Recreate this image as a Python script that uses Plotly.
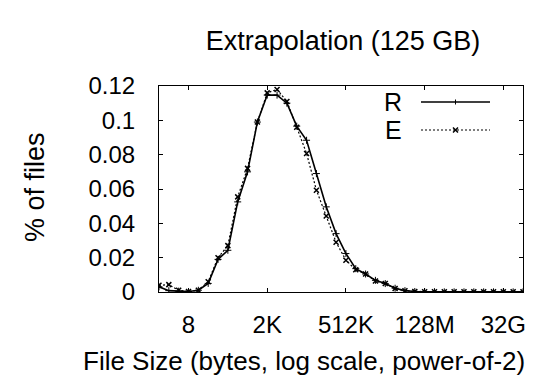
import plotly.graph_objects as go

# x positions: log2(file size in bytes)
log2_size = list(range(0, 38))
r_values = [0.003, 0.0008, 0.0005, 0.0003, 0.001, 0.005, 0.019, 0.0243, 0.0525, 0.070,
            0.099, 0.1147, 0.1147, 0.110, 0.0966, 0.0884, 0.069, 0.0496, 0.034, 0.0224,
            0.0136, 0.0105, 0.0068, 0.0049, 0.0022, 0.0008, 0.0003, 0.0002, 0.0002, 0.0001,
            0.0001, 0.0001, 0.0001, 0.0001, 0.0001, 0.0001, 0.0001, 0.0001]
e_values = [0.0039, 0.0043, 0.001, 0.0003, 0.001, 0.006, 0.020, 0.027, 0.0554, 0.072,
            0.099, 0.116, 0.118, 0.111, 0.096, 0.0807, 0.0593, 0.0443, 0.029, 0.0185,
            0.013, 0.0105, 0.0064, 0.0049, 0.002, 0.0007, 0.0003, 0.0002, 0.0002, 0.0001,
            0.0001, 0.0001, 0.0001, 0.0001, 0.0001, 0.0001, 0.0001, 0.0001]
x_tick_vals = [3, 11, 19, 27, 35]
x_tick_text = ["8", "2K", "512K", "128M", "32G"]
y_tick_vals = [0, 0.02, 0.04, 0.06, 0.08, 0.1, 0.12]
y_tick_text = ["0", "0.02", "0.04", "0.06", "0.08", "0.1", "0.12"]

FONT = "Liberation Sans, Arial, Helvetica, sans-serif"

fig = go.Figure()
fig.add_trace(go.Scatter(x=log2_size, y=r_values, mode="lines+markers", name="R",
                         line=dict(color="black", width=1.6),
                         marker=dict(symbol="cross-thin", size=5, color="black",
                                     line=dict(color="black", width=1)),
                         showlegend=False))
fig.add_trace(go.Scatter(x=log2_size, y=e_values, mode="lines+markers", name="E",
                         line=dict(color="black", width=1.2, dash="2px,2px"),
                         marker=dict(symbol="x-thin", size=5, color="black",
                                     line=dict(color="black", width=1.5)),
                         showlegend=False))

W, H = 540, 378
L, R, T, B = 159, 17, 86, 86
pw, ph = W - L - R, H - T - B

def px(xp):
    return (xp - L) / pw

def py(yp):
    return (H - B - yp) / ph

# manual gnuplot-style legend (key text left of sample)
shapes = []
annotations = []
for label, yp, dash in [("R", 102, "solid"), ("E", 130, "dot")]:
    annotations.append(dict(text=label, x=px(404), y=py(yp), xref="paper", yref="paper",
                            xanchor="right", yanchor="middle", showarrow=False,
                            font=dict(family=FONT, size=25, color="black")))
    shapes.append(dict(type="line", xref="paper", yref="paper",
                       x0=px(421), x1=px(490), y0=py(yp), y1=py(yp),
                       line=dict(color="black", width=1.2 if dash == "dot" else 1.4,
                                 dash="2px,2px" if dash == "dot" else "solid")))
# legend sample markers
shapes.append(dict(type="line", xref="paper", yref="paper", x0=px(455.5), x1=px(455.5),
                   y0=py(99.5), y1=py(104.5), line=dict(color="black", width=1)))
shapes.append(dict(type="line", xref="paper", yref="paper", x0=px(453), x1=px(458),
                   y0=py(127.5), y1=py(132.5), line=dict(color="black", width=1.5)))
shapes.append(dict(type="line", xref="paper", yref="paper", x0=px(453), x1=px(458),
                   y0=py(132.5), y1=py(127.5), line=dict(color="black", width=1.5)))

annotations.append(dict(text="File Size (bytes, log scale, power-of-2)", x=px(81), y=py(361),
                        xref="paper", yref="paper", xanchor="left", yanchor="middle",
                        showarrow=False, font=dict(family=FONT, size=26, color="black")))
annotations.append(dict(text="% of files", x=px(35), y=py(187), xref="paper", yref="paper",
                        xanchor="center", yanchor="middle", textangle=-90, showarrow=False,
                        font=dict(family=FONT, size=27, color="black")))

fig.update_layout(
    width=W, height=H,
    margin=dict(l=L, r=R, t=T, b=B, autoexpand=False),
    paper_bgcolor="white", plot_bgcolor="white",
    font=dict(family=FONT, color="black"),
    title=dict(text="Extrapolation (125 GB)", x=px(343), xref="paper", xanchor="center",
               y=1 - 41 / H, yref="container", yanchor="middle",
               font=dict(family=FONT, size=27, color="black")),
    shapes=shapes, annotations=annotations,
)
fig.update_xaxes(range=[0, 37], tickvals=x_tick_vals, ticktext=x_tick_text,
                 ticks="inside", ticklen=4, tickcolor="black", tickwidth=1,
                 showline=True, linecolor="black", linewidth=1, mirror="ticks",
                 showgrid=False, zeroline=False, ticklabelstandoff=11,
                 tickfont=dict(family=FONT, size=24, color="black"))
fig.update_yaxes(range=[0, 0.12], tickvals=y_tick_vals, ticktext=y_tick_text,
                 ticks="inside", ticklen=4, tickcolor="black", tickwidth=1,
                 showline=True, linecolor="black", linewidth=1, mirror="ticks",
                 showgrid=False, zeroline=False, ticklabelstandoff=18,
                 tickfont=dict(family=FONT, size=24, color="black"))

fig.write_html("out.html", config={"displayModeBar": False},
               post_script="document.body.style.margin='0';")
